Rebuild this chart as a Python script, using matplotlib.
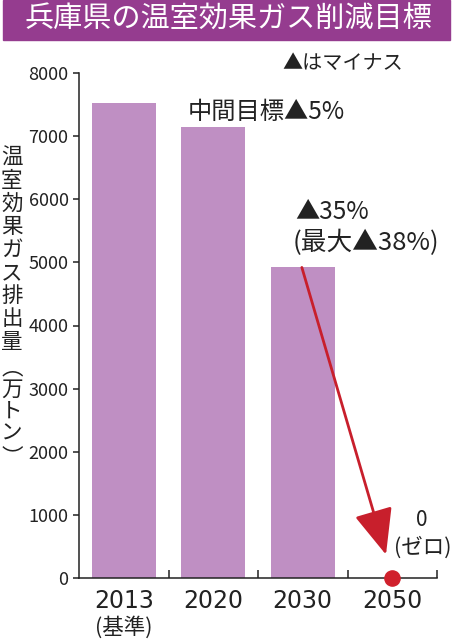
import matplotlib
matplotlib.use("Agg")
import matplotlib.pyplot as plt
from matplotlib.patches import Rectangle

plt.rcParams['font.family'] = ['Noto Sans CJK JP', 'DejaVu Sans']

# ---- data ----
years = ["2013", "2020", "2030", "2050"]
emissions = [7530, 7150, 4920, 0]
yticks = [0, 1000, 2000, 3000, 4000, 5000, 6000, 7000, 8000]
title = "兵庫県の温室効果ガス削減目標"
ylabel_chars = list("温室効果ガス排出量") + ["︵", "万", "ト", "ン", "︶"]

BAR = "#bf8fc3"
TITLE_BG = "#953c8f"
RED = "#d0202c"
DARK = "#222222"

fig = plt.figure(figsize=(4.54, 6.4), dpi=100)
fig.patches.append(Rectangle((3/454, 1 - 40/640), 447/454, 40/640,
                             transform=fig.transFigure, color=TITLE_BG, zorder=0))
fig.text(228/454, 1 - 20/640, title, color="white", fontsize=21,
         ha="center", va="center")

ax = fig.add_axes([79/454, 1 - 578/640, (437 - 79)/454, (578 - 73)/640])
x = list(range(len(years)))
ax.bar(x[:3], emissions[:3], width=0.715, color=BAR, zorder=1)
ax.scatter([x[3]], [emissions[3]], s=120, color=RED, zorder=5, clip_on=False)

ax.set_xlim(-0.5, 3.5)
ax.set_ylim(0, 8000)
ax.set_yticks(yticks)
ax.set_yticklabels([str(v) for v in yticks], fontsize=13, color=DARK)
ax.set_xticks(x)
ax.set_xticklabels(years, fontsize=17, family='DejaVu Sans', color=DARK)
ax.set_xticks([i + 0.5 for i in x], minor=True)
ax.tick_params(axis='x', which='major', length=0, pad=8)
ax.tick_params(axis='x', which='minor', direction='in', length=6, width=1.1, color=DARK)
ax.tick_params(axis='y', direction='out', length=4.5, width=1.1, color=DARK, pad=3)
for s in ['top', 'right']:
    ax.spines[s].set_visible(False)
for s in ['left', 'bottom']:
    ax.spines[s].set_linewidth(1.1)
    ax.spines[s].set_color(DARK)

# arrow from 2030 bar top towards 2050 zero point
ax.annotate("", xy=(x[3] - 0.07, emissions[3] + 370), xytext=(x[2] - 0.01, emissions[2]),
            arrowprops=dict(arrowstyle="-|>,head_length=1.3,head_width=0.55",
                            mutation_scale=22, color="#c81f2c", lw=2.0,
                            shrinkA=0, shrinkB=0), zorder=4)

# annotations
fig.text(124/454, 1 - 627/640, "(基準)", fontsize=15.5, ha="center", va="center", color=DARK)
fig.text(282/454, 1 - 63/640, "▲はマイナス", fontsize=14.5, ha="left", va="center", color=DARK)
fig.text(188/454, 1 - 112/640, "中間目標▲5%", fontsize=17.5, ha="left", va="center", color=DARK)
fig.text(295/454, 1 - 212/640, "▲35%", fontsize=17.5, ha="left", va="center", color=DARK)
fig.text(293/454, 1 - 243/640, "(最大▲38%)", fontsize=18.5, ha="left", va="center", color=DARK)
fig.text(422/454, 1 - 520/640, "0", fontsize=15, ha="center", va="center", color=DARK)
fig.text(423/454, 1 - 548/640, "(ゼロ)", fontsize=15.5, ha="center", va="center", color=DARK)

# vertical y label
ypos = [158 + 23.0 * i for i in range(9)] + [368, 390, 412, 434, 457]
for ch, yp in zip(ylabel_chars, ypos):
    fig.text(12/454, 1 - yp/640, ch, fontsize=15.5, ha="center", va="center", color=DARK)

fig.savefig("out.png", dpi=100, facecolor="white")
